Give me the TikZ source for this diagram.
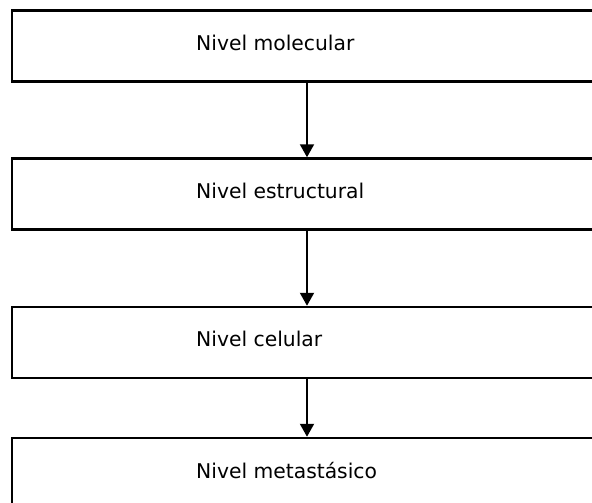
\documentclass[tikz,border=0pt]{standalone}
\usepackage{fontspec}
\setmainfont{DejaVu Sans}
\usetikzlibrary{arrows.meta}
\tikzset{
  levelbox/.style={draw=black, line width=2.5pt, rectangle, minimum width=608pt, minimum height=71pt, inner sep=0pt},
  leveltext/.style={anchor=base west, inner sep=0pt, font=\fontsize{20.3}{24}\selectfont},
  flowarrow/.style={draw=black, line width=2pt, -{Triangle[width=14pt,length=13pt]}}
}
\begin{document}
\begin{tikzpicture}[x=1pt,y=-1pt]
\clip (0,0) rectangle (592,503);
\fill[white] (0,0) rectangle (592,503);
\node[levelbox] (b1) at (316,46) {};
\node[levelbox] (b2) at (316,194) {};
\node[levelbox] (b3) at (316,342.5) {};
\node[levelbox] (b4) at (316,473.5) {};
\node[leveltext] (t1) at (196,51) {Nivel molecular};
\node[leveltext] (t2) at (196,198) {Nivel estructural};
\node[leveltext] (t3) at (196,346) {Nivel celular};
\node[leveltext] (t4) at (196,478) {Nivel metastásico};
\coordinate (ax) at (307,0);
\draw[flowarrow] (b1.south -| ax) -- (b2.north -| ax);
\draw[flowarrow] (b2.south -| ax) -- (b3.north -| ax);
\draw[flowarrow] (b3.south -| ax) -- (b4.north -| ax);
\end{tikzpicture}
\end{document}
